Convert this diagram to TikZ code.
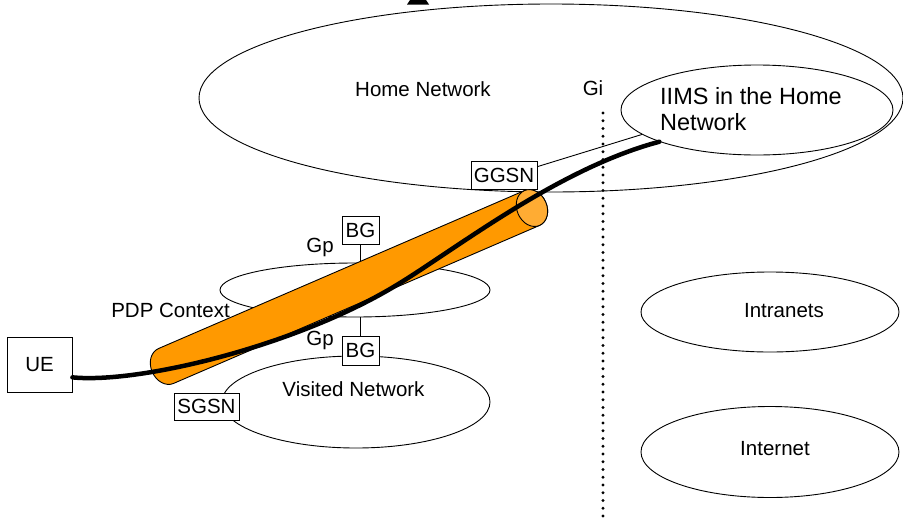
\documentclass[tikz,border=0pt]{standalone}
\usepackage{fontspec}
\setmainfont{Liberation Sans}
\usetikzlibrary{shapes.geometric,calc}
\definecolor{tubeorange}{RGB}{255,153,0}
\definecolor{tubecap}{RGB}{255,172,51}

\begin{document}
\begin{tikzpicture}[x=1pt,y=-1pt,
  net/.style={draw, ellipse, inner sep=0pt, line width=0.9pt},
  box/.style={draw, fill=white, inner sep=0pt, line width=0.9pt,
              font=\fontsize{20.5}{24}\selectfont},
  lbl/.style={inner sep=0pt, font=\fontsize{20.5}{24}\selectfont},
  thinline/.style={line width=0.9pt},
  bearer/.style={line width=4.5pt, line cap=round, line join=round}]
\useasboundingbox (0,0) rectangle (903,528);

% networks
\node[net, minimum width=704pt, minimum height=188pt] (home) at (551,98) {};
\node[net, minimum width=272pt, minimum height=90pt] (iims) at (757,110) {};
\node[net, minimum width=270pt, minimum height=54pt] (pdp) at (355,290) {};
\node[net, minimum width=268pt, minimum height=92pt] (visited) at (356,402) {};
\node[net, minimum width=258pt, minimum height=80pt] (intra) at (770,312) {};
\node[net, minimum width=258pt, minimum height=91pt] (inet) at (770,452) {};

% Gi reference point
\coordinate (gitop) at (603,113);
\coordinate (gibot) at (603,522);
\draw[line width=3.2pt, line cap=round, dash pattern=on 0pt off 7.75pt] (gitop) -- (gibot);

% arrowhead at the top edge
\fill (410,0) -- (426,0) -- (429,4.5) -- (407,4.5) -- cycle;

% border gateways
\node[box, minimum width=37pt, minimum height=28pt] (bg1) at (360.5,230) {BG};
\node[box, minimum width=37pt, minimum height=29pt] (bg2) at (360.5,350.5) {BG};
\draw[thinline] (bg1.south) -- (bg1.south |- pdp.north);
\draw[thinline] (bg2.north) -- (bg2.north |- pdp.south);

% nodes
\node[box, minimum width=65pt, minimum height=55pt] (ue) at (39.5,364.5) {UE};
\node[box, minimum width=65pt, minimum height=27pt] (sgsn) at (206.5,406.5) {SGSN};
\node[box, minimum width=66pt, minimum height=28pt] (ggsn) at (504,175) {GGSN};

% GGSN to IMS
\draw[thinline] ($(ggsn.north east)!0.21!(ggsn.south east)$) -- (iims.192);

% PDP context tunnel
\begin{scope}[shift={(166,366)}, rotate=23.35]
  \filldraw[fill=tubeorange, thinline]
    (0,-19) -- (398.6,-19) arc[start angle=-90, end angle=90, x radius=15, y radius=19]
    -- (0,19) arc[start angle=90, end angle=270, x radius=15, y radius=19] -- cycle;
  \filldraw[fill=tubecap, thinline] (398.6,0) ellipse[x radius=15, y radius=19];
\end{scope}

% bearer from UE to IMS
\coordinate (uep) at ($(ue.south east)!0.27!(ue.north east)$);
\coordinate (bend) at (400,283);
\draw[bearer] (uep) .. controls (140,384) and (300,345) .. (bend)
  .. controls (460,246) and (560,168) .. (iims.198);

% labels
\node[lbl, anchor=base] (homelbl) at (423,96.5) {Home Network};
\node[lbl, anchor=base] (gilbl) at (593,95) {Gi};
\node[inner sep=0pt, anchor=north west, align=left,
      font=\fontsize{23.5}{26}\selectfont] (iimslbl) at (660,87.5) {IIMS in the Home\\Network};
\node[lbl, anchor=base] (gp1) at (320,252) {Gp};
\node[lbl, anchor=base] (gp2) at (320,345) {Gp};
\node[lbl, anchor=base east] (pdplbl) at (230,317) {PDP Context};
\node[lbl, anchor=base] (vislbl) at (353.5,396) {Visited Network};
\node[lbl, anchor=base] (intralbl) at (784,317) {Intranets};
\node[lbl, anchor=base] (inetlbl) at (775,455) {Internet};
\end{tikzpicture}
\end{document}
